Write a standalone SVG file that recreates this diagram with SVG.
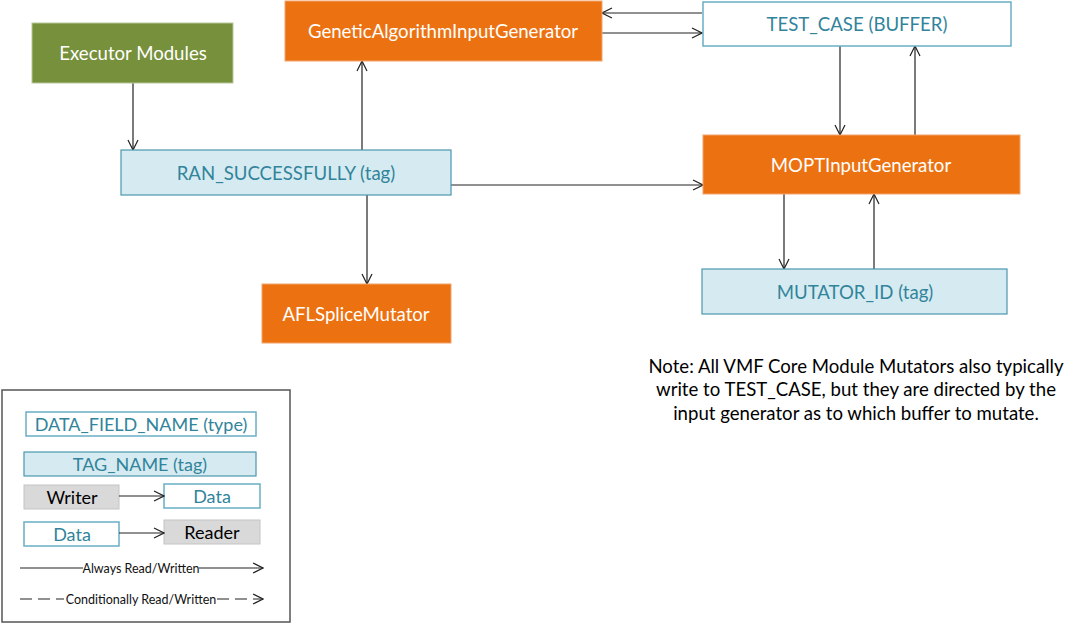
<svg xmlns="http://www.w3.org/2000/svg" width="1076" height="623" viewBox="0 0 1076 623">
<style>
text{font-family:Lato,"Liberation Sans",sans-serif;text-anchor:middle;dominant-baseline:central}
.org{fill:#EC7211;stroke:#F2A46C;stroke-width:1}
.orgt{fill:#fff;font-size:18.6px}
.tag{fill:#D6EBF1;stroke:#4A97AE;stroke-width:1.2}
.buf{fill:#fff;stroke:#6AAEC4;stroke-width:1.5}
.tt{fill:#31849B;font-size:18.6px}
.lg{font-size:18px}
.gray{fill:#D9D9D9;stroke:#C4C4C4;stroke-width:1}
.blk{fill:#000}
.c{stroke:#222;stroke-width:1.2;fill:none}
.lt{fill:#111;font-size:12.5px}
</style>
<defs>
<marker id="ah" viewBox="0 0 12 12" refX="11" refY="6" markerWidth="12" markerHeight="12" markerUnits="userSpaceOnUse" orient="auto">
<path d="M1,1 L11,6 L1,11" fill="none" stroke="#222" stroke-width="1.2"/>
</marker>
</defs>
<g id="connectors">
<line class="c" x1="133" y1="83" x2="133" y2="150" marker-end="url(#ah)"/>
<line class="c" x1="362" y1="150" x2="362" y2="61" marker-end="url(#ah)"/>
<line class="c" x1="702" y1="13" x2="602" y2="13" marker-end="url(#ah)"/>
<line class="c" x1="602" y1="33" x2="702" y2="33" marker-end="url(#ah)"/>
<line class="c" x1="840" y1="46" x2="840" y2="135" marker-end="url(#ah)"/>
<line class="c" x1="915" y1="135" x2="915" y2="46" marker-end="url(#ah)"/>
<line class="c" x1="451" y1="185" x2="703" y2="185" marker-end="url(#ah)"/>
<line class="c" x1="367" y1="195" x2="367" y2="284" marker-end="url(#ah)"/>
<line class="c" x1="784" y1="194" x2="784" y2="269" marker-end="url(#ah)"/>
<line class="c" x1="874" y1="269" x2="874" y2="194" marker-end="url(#ah)"/>
</g>
<g id="executor"><rect x="32" y="23" width="201" height="60" fill="#77903B" stroke="#B8C79C"/><text x="133" y="53" class="orgt">Executor Modules</text></g>
<g id="gaig"><rect class="org" x="285" y="1" width="317" height="60"/><text x="443" y="31" class="orgt">GeneticAlgorithmInputGenerator</text></g>
<g id="testcase"><rect class="buf" x="703" y="2" width="308" height="44"/><text x="857" y="24" class="tt">TEST_CASE (BUFFER)</text></g>
<g id="ran"><rect class="tag" x="121" y="150" width="330" height="45"/><text x="286" y="173" class="tt">RAN_SUCCESSFULLY (tag)</text></g>
<g id="mopt"><rect class="org" x="703" y="135" width="317" height="59"/><text x="861" y="165" class="orgt">MOPTInputGenerator</text></g>
<g id="afl"><rect class="org" x="262" y="284" width="189" height="59"/><text x="356" y="314" class="orgt">AFLSpliceMutator</text></g>
<g id="mutatorid"><rect class="tag" x="702" y="269" width="305" height="45"/><text x="855" y="292" class="tt">MUTATOR_ID (tag)</text></g>
<g id="note" style="font-size:18.6px;fill:#000">
<text x="856" y="366">Note: All VMF Core Module Mutators also typically</text>
<text x="856" y="389">write to TEST_CASE, but they are directed by the</text>
<text x="856" y="413">input generator as to which buffer to mutate.</text>
</g>
<g id="legend">
<rect x="2" y="390" width="288" height="232" fill="#fff" stroke="#555" stroke-width="1.5"/>
<rect class="buf" x="26" y="412" width="230" height="24"/><text x="141" y="424" class="tt lg">DATA_FIELD_NAME (type)</text>
<rect class="tag" x="24" y="452" width="232" height="24"/><text x="140" y="464" class="tt lg">TAG_NAME (tag)</text>
<rect class="gray" x="24" y="485" width="95" height="24"/><text x="72" y="497" class="blk lg">Writer</text>
<rect class="buf" x="164" y="484" width="96" height="24"/><text x="212" y="496" class="tt lg">Data</text>
<rect class="buf" x="24" y="522" width="95" height="24"/><text x="72" y="534" class="tt lg">Data</text>
<rect class="gray" x="164" y="520" width="96" height="24"/><text x="212" y="532" class="blk lg">Reader</text>
<line class="c" x1="119" y1="496" x2="164" y2="496" marker-end="url(#ah)"/>
<line class="c" x1="119" y1="533" x2="164" y2="533" marker-end="url(#ah)"/>
<line class="c" x1="20" y1="568" x2="83" y2="568"/>
<text x="141" y="568" class="lt">Always Read/Written</text>
<line class="c" x1="199" y1="568" x2="263" y2="568" marker-end="url(#ah)"/>
<line class="c" x1="20" y1="599" x2="64" y2="599" stroke-dasharray="12,6"/>
<text x="141" y="599" class="lt">Conditionally Read/Written</text>
<line class="c" x1="217" y1="599" x2="263" y2="599" stroke-dasharray="12,6" marker-end="url(#ah)"/>
</g>
</svg>
